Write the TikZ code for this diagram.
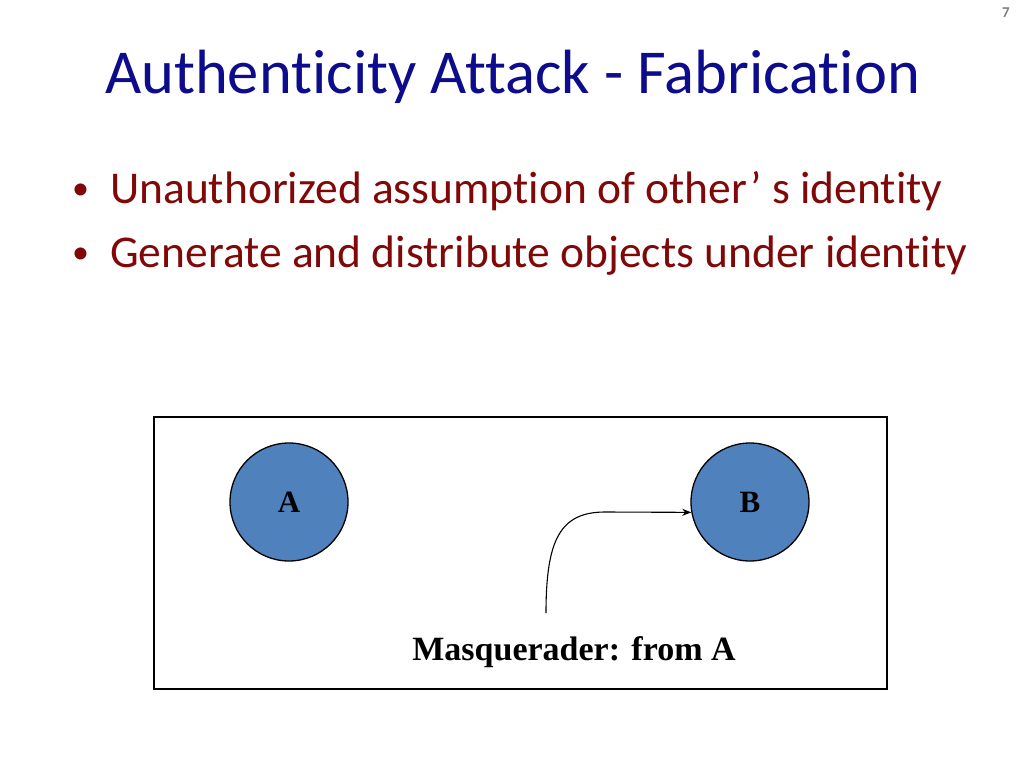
\documentclass[tikz,border=0pt]{standalone}
\usepackage{fontspec}
\setmainfont{Carlito}[Ligatures={NoCommon}]
\newfontfamily\timesfont{Liberation Serif}
\usepackage{tikz}
\usetikzlibrary{arrows.meta,positioning}
\definecolor{mytitleblue}{RGB}{12,12,140}
\definecolor{mymaroon}{RGB}{128,8,8}
\definecolor{mysteelblue}{RGB}{79,129,189}
\definecolor{mygray}{RGB}{128,128,128}

\begin{document}
\begin{tikzpicture}[
  x=1pt,
  y=-1pt,
  mytitle/.style={
    anchor=base west,
    inner sep=0,
    text=mytitleblue,
    font=\fontsize{62.5}{62.5}\selectfont
    },
  mybullet/.style={
    anchor=base west,
    inner sep=0,
    text=mymaroon,
    font=\fontsize{45.5}{45.5}\selectfont
    },
  mydot/.style={
    anchor=base west,
    inner sep=0,
    text=mymaroon,
    font=\fontsize{34}{34}\selectfont
    },
  mycircle/.style={
    draw,
    circle,
    line width=1.3pt,
    fill=mysteelblue,
    minimum size=118pt,
    inner sep=0,
    font=\timesfont\bfseries\fontsize{31}{31}\selectfont
    },
  mylabel/.style={
    anchor=base,
    inner sep=0,
    font=\timesfont\bfseries\fontsize{34}{34}\selectfont
  }
]
\useasboundingbox (0,0) rectangle (1024,768);

% page number
\node[inner sep=0,text=mygray,font=\bfseries\fontsize{15}{15}\selectfont]
  (pagenum) at (1006,13) {7};

\node[mytitle] (title) at (105,93) {Authenticity Attack - Fabrication};

\node[mydot] (dotone) at (72,199) {•};
\node[mybullet] (lineone) at (110,203) {Unauthorized assumption of other\hspace{0.08em}’ s identity};
\node[mydot] (dottwo) at (72,263) {•};
\node[mybullet] (linetwo) at (110,267) {Generate and distribute objects under identity};

% the frame
\draw[line width=1.3pt] (154,417) rectangle (887,689);

\node[mycircle] (A) at (289,502) {A};
\node[mycircle] (B) at (750,502) {B};

\node[mylabel] (masq) at (574,660) {Masquerader: from A};
\coordinate (masqtip) at (546,613);

\draw[line width=1.1pt,-{Stealth[length=9pt,width=7pt]}]
  (masqtip) .. controls (546,540) and (560,512) .. (605,512) -- (B.190);

\end{tikzpicture}
\end{document}
